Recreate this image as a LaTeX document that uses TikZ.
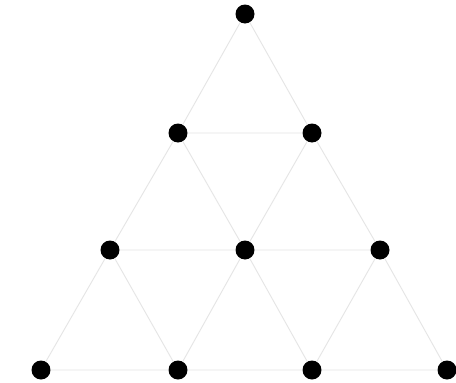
\documentclass[tikz,border=0pt]{standalone}
\begin{document}
\begin{tikzpicture}[x=1pt,y=-1pt,
  dot/.style={circle,fill=black,inner sep=0pt,minimum size=19pt},
  edge/.style={draw=black!10,line width=0.9pt}]
\useasboundingbox[fill=white] (0,0) rectangle (456,383);
\node[dot] (a) at (245,14) {};
\node[dot] (b1) at (178,133) {};
\node[dot] (b2) at (312,133) {};
\node[dot] (c1) at (110,250) {};
\node[dot] (c2) at (245,250) {};
\node[dot] (c3) at (380,250) {};
\node[dot] (d1) at (41,370) {};
\node[dot] (d2) at (178,370) {};
\node[dot] (d3) at (312,370) {};
\node[dot] (d4) at (447,370) {};
\begin{scope}[on background layer/.try]
\end{scope}
\path[edge] (a) -- (b1) (a) -- (b2) (b1) -- (b2)
  (b1) -- (c1) (b1) -- (c2) (b2) -- (c2) (b2) -- (c3)
  (c1) -- (c2) (c2) -- (c3)
  (c1) -- (d1) (c1) -- (d2) (c2) -- (d2) (c2) -- (d3) (c3) -- (d3) (c3) -- (d4)
  (d1) -- (d2) (d2) -- (d3) (d3) -- (d4);
\end{tikzpicture}
\end{document}
